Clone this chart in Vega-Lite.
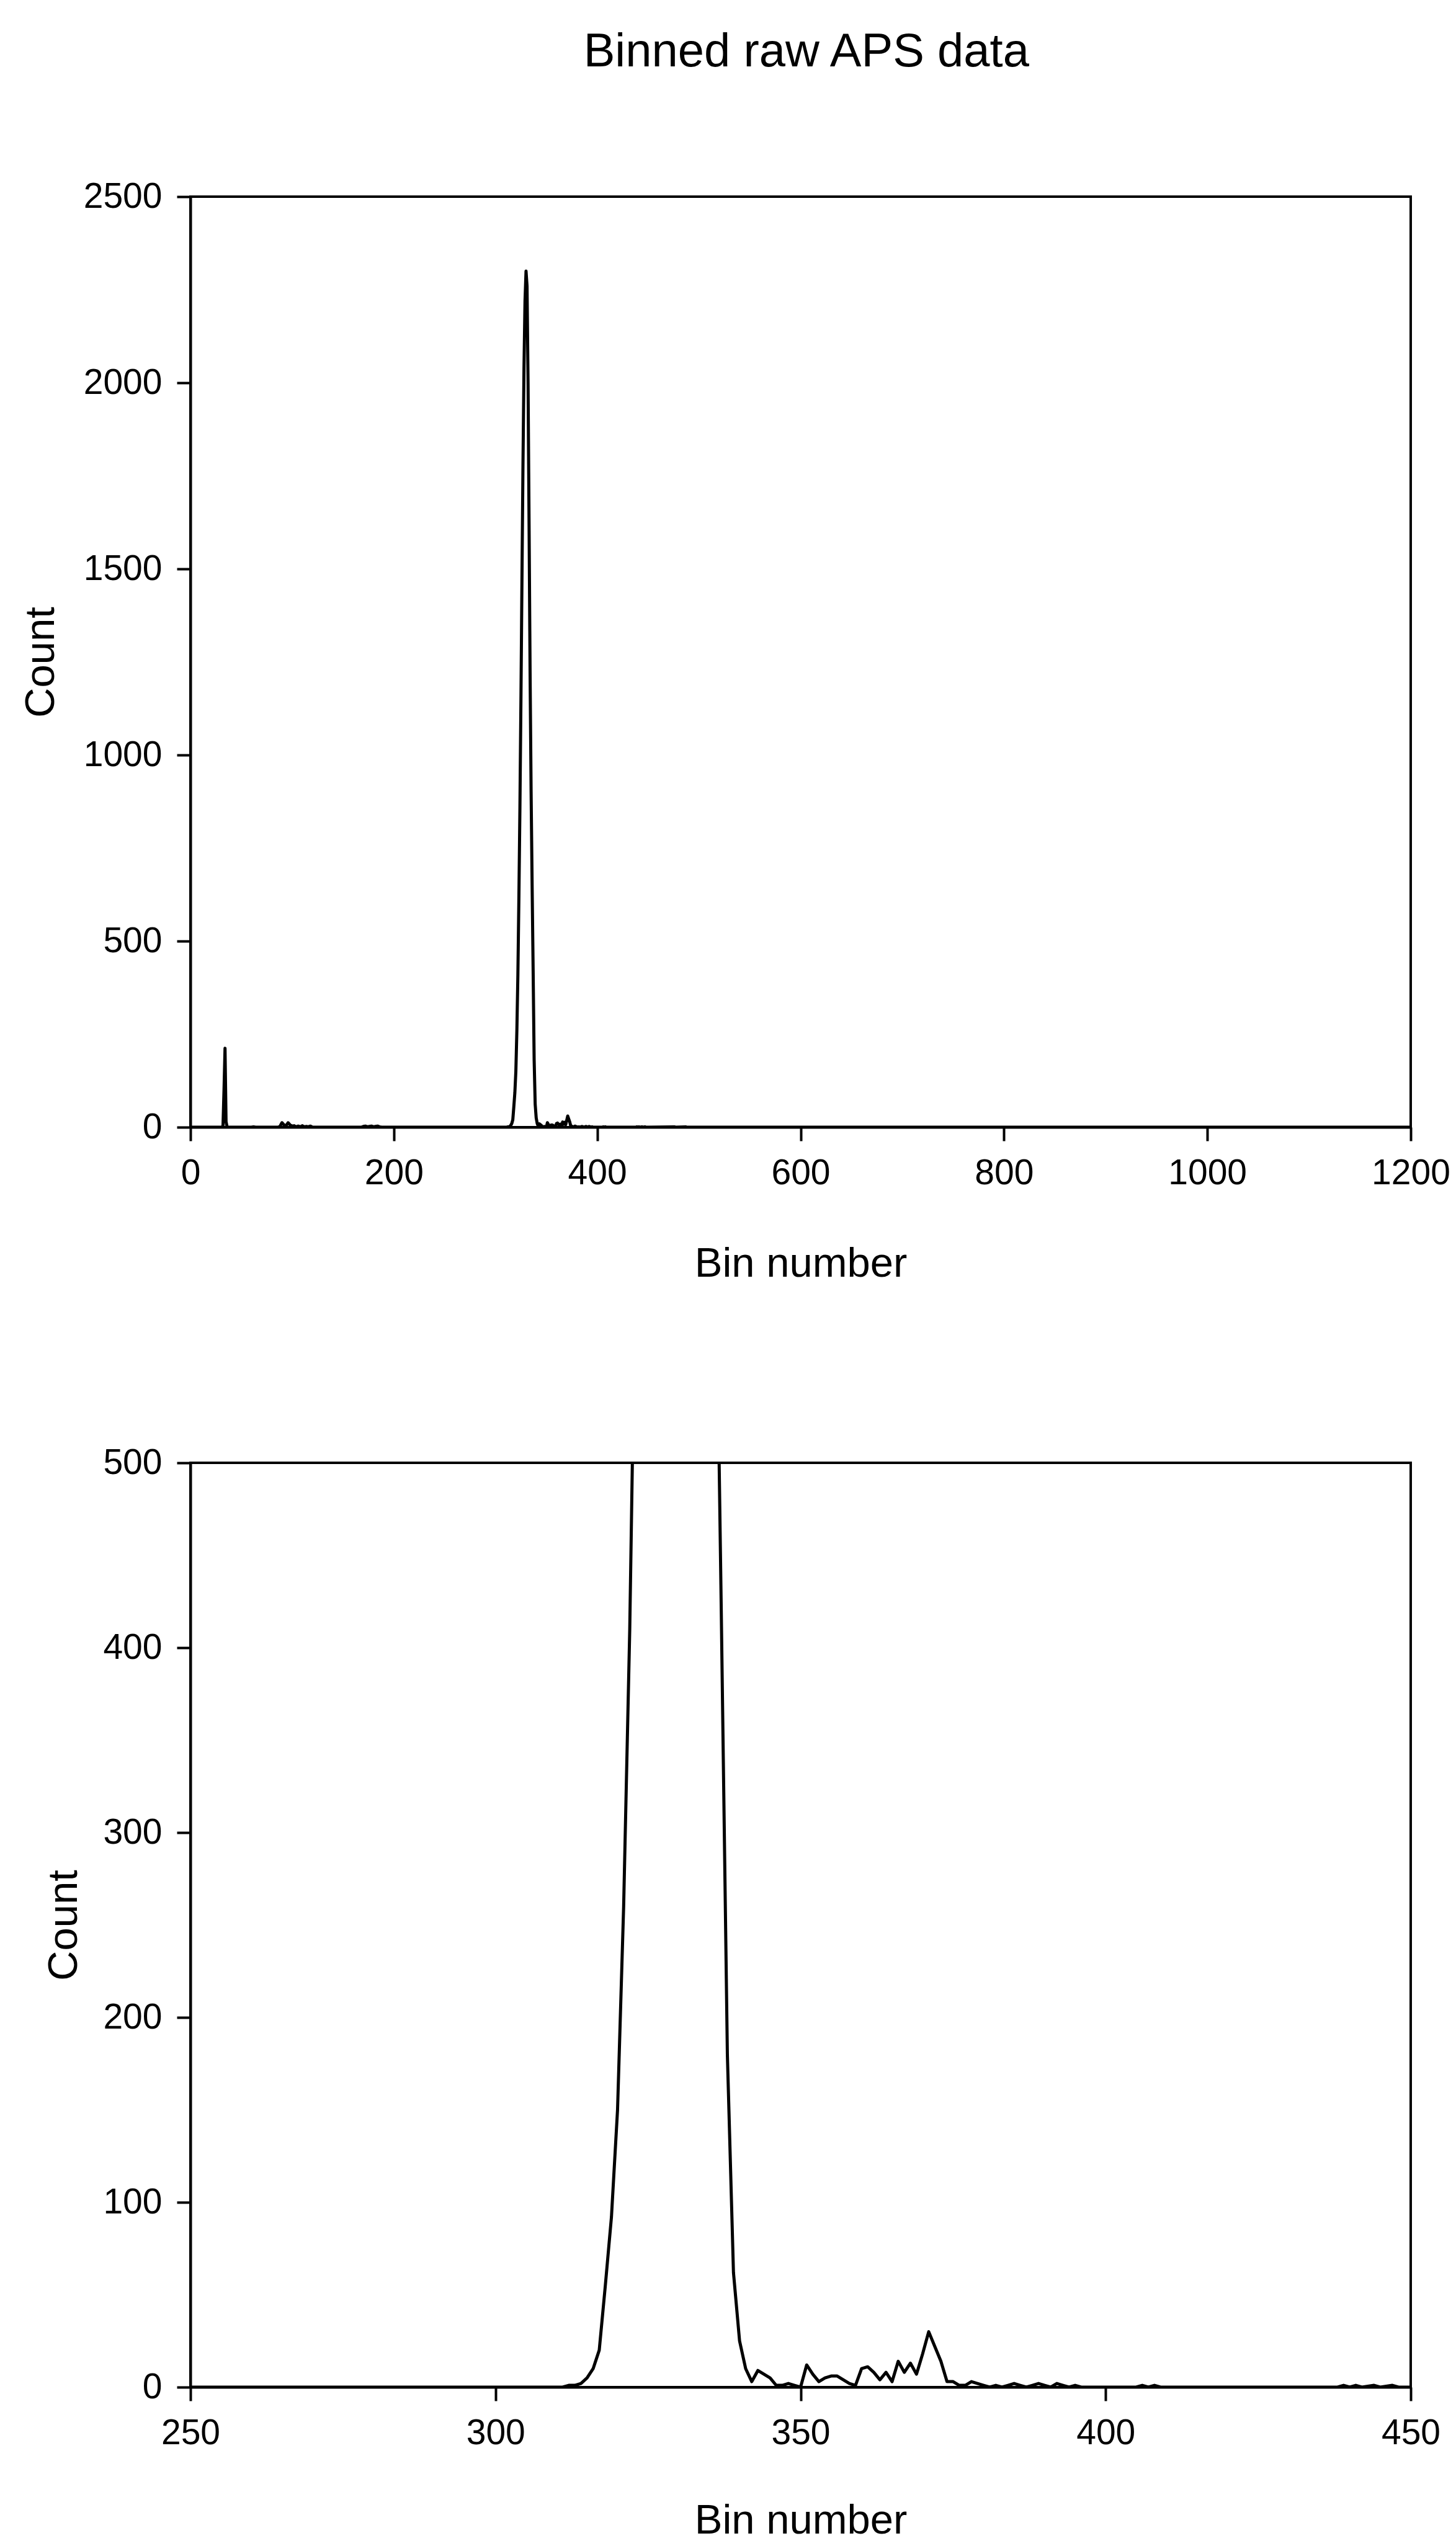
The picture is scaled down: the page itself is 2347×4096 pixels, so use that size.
{
  "$schema": "https://vega.github.io/schema/vega-lite/v6.json",
  "background": "white",
  "padding": {"left": 30, "top": 46, "right": 9, "bottom": 0},
  "title": {"text": "Binned raw APS data", "fontSize": 76, "font": "Liberation Sans", "fontWeight": "normal", "color": "black", "anchor": "middle", "offset": 163, "dx": 115},
  "datasets": {
    "aps": [
      {"bin": 0, "count": 0}, {"bin": 30, "count": 0}, {"bin": 32, "count": 2}, {"bin": 33, "count": 100}, {"bin": 34, "count": 212}, {"bin": 35, "count": 15}, {"bin": 36, "count": 1}, {"bin": 38, "count": 0},
      {"bin": 60, "count": 0}, {"bin": 62, "count": 1}, {"bin": 64, "count": 0},
      {"bin": 86, "count": 0}, {"bin": 88, "count": 2}, {"bin": 90, "count": 12}, {"bin": 92, "count": 6}, {"bin": 94, "count": 4}, {"bin": 96, "count": 12}, {"bin": 98, "count": 6}, {"bin": 100, "count": 3}, {"bin": 102, "count": 4}, {"bin": 104, "count": 1}, {"bin": 106, "count": 3}, {"bin": 108, "count": 1}, {"bin": 110, "count": 4}, {"bin": 112, "count": 1}, {"bin": 114, "count": 2}, {"bin": 116, "count": 1}, {"bin": 118, "count": 3}, {"bin": 120, "count": 0},
      {"bin": 168, "count": 0}, {"bin": 170, "count": 2}, {"bin": 172, "count": 3}, {"bin": 174, "count": 1}, {"bin": 176, "count": 2}, {"bin": 178, "count": 3}, {"bin": 180, "count": 1}, {"bin": 182, "count": 2}, {"bin": 184, "count": 3}, {"bin": 186, "count": 1}, {"bin": 188, "count": 0},
      {"bin": 250, "count": 0}, {"bin": 280, "count": 0}, {"bin": 300, "count": 0}, {"bin": 310, "count": 0}, {"bin": 311, "count": 0},
      {"bin": 312, "count": 1}, {"bin": 313, "count": 1}, {"bin": 314, "count": 2}, {"bin": 315, "count": 5}, {"bin": 316, "count": 10}, {"bin": 317, "count": 20}, {"bin": 318, "count": 55}, {"bin": 319, "count": 92}, {"bin": 320, "count": 150}, {"bin": 321, "count": 260}, {"bin": 322, "count": 410}, {"bin": 323, "count": 620}, {"bin": 324, "count": 860}, {"bin": 325, "count": 1150}, {"bin": 326, "count": 1470}, {"bin": 327, "count": 1780}, {"bin": 328, "count": 2040}, {"bin": 329, "count": 2220}, {"bin": 330, "count": 2300}, {"bin": 331, "count": 2260}, {"bin": 332, "count": 2000}, {"bin": 333, "count": 1620}, {"bin": 334, "count": 1220}, {"bin": 335, "count": 900}, {"bin": 336, "count": 650}, {"bin": 337, "count": 420}, {"bin": 338, "count": 180}, {"bin": 339, "count": 62}, {"bin": 340, "count": 25}, {"bin": 341, "count": 10}, {"bin": 342, "count": 3}, {"bin": 343, "count": 9}, {"bin": 344, "count": 7}, {"bin": 345, "count": 5}, {"bin": 346, "count": 1}, {"bin": 347, "count": 1}, {"bin": 348, "count": 2}, {"bin": 349, "count": 1}, {"bin": 350, "count": 0},
      {"bin": 351, "count": 12}, {"bin": 352, "count": 7}, {"bin": 353, "count": 3}, {"bin": 354, "count": 5}, {"bin": 355, "count": 6}, {"bin": 356, "count": 6}, {"bin": 357, "count": 4}, {"bin": 358, "count": 2}, {"bin": 359, "count": 1}, {"bin": 360, "count": 10}, {"bin": 361, "count": 11}, {"bin": 362, "count": 8}, {"bin": 363, "count": 4}, {"bin": 364, "count": 8}, {"bin": 365, "count": 3}, {"bin": 366, "count": 14}, {"bin": 367, "count": 8}, {"bin": 368, "count": 13}, {"bin": 369, "count": 7}, {"bin": 370, "count": 18}, {"bin": 371, "count": 30}, {"bin": 372, "count": 22}, {"bin": 373, "count": 14}, {"bin": 374, "count": 3}, {"bin": 375, "count": 3}, {"bin": 376, "count": 1}, {"bin": 377, "count": 1}, {"bin": 378, "count": 3}, {"bin": 379, "count": 2}, {"bin": 380, "count": 1}, {"bin": 381, "count": 0}, {"bin": 382, "count": 1}, {"bin": 383, "count": 0}, {"bin": 384, "count": 1}, {"bin": 385, "count": 2}, {"bin": 386, "count": 1}, {"bin": 387, "count": 0}, {"bin": 388, "count": 1}, {"bin": 389, "count": 2}, {"bin": 390, "count": 1}, {"bin": 391, "count": 0}, {"bin": 392, "count": 2}, {"bin": 393, "count": 1}, {"bin": 394, "count": 0}, {"bin": 395, "count": 1}, {"bin": 396, "count": 0},
      {"bin": 405, "count": 0}, {"bin": 406, "count": 1}, {"bin": 407, "count": 0}, {"bin": 408, "count": 1}, {"bin": 409, "count": 0},
      {"bin": 438, "count": 0}, {"bin": 439, "count": 1}, {"bin": 440, "count": 0}, {"bin": 441, "count": 1}, {"bin": 442, "count": 0}, {"bin": 444, "count": 1}, {"bin": 445, "count": 0}, {"bin": 447, "count": 1}, {"bin": 448, "count": 0}, {"bin": 450, "count": 0},
      {"bin": 476, "count": 1}, {"bin": 477, "count": 0}, {"bin": 487, "count": 1}, {"bin": 488, "count": 0}, {"bin": 600, "count": 0}, {"bin": 800, "count": 0}, {"bin": 1000, "count": 0}, {"bin": 1200, "count": 0}
    ]
  },
  "spacing": 255,
  "vconcat": [
    {
      "width": 1967,
      "height": 1500,
      "data": {"name": "aps"},
      "mark": {"type": "line", "color": "black", "strokeWidth": 5, "strokeJoin": "round", "clip": true},
      "encoding": {
        "x": {"field": "bin", "type": "quantitative", "scale": {"domain": [0, 1200], "nice": false, "zero": false}, "axis": {"values": [0, 200, 400, 600, 800, 1000, 1200], "format": "d", "title": "Bin number", "titlePadding": 85}},
        "y": {"field": "count", "type": "quantitative", "scale": {"domain": [0, 2500], "nice": false}, "axis": {"values": [0, 500, 1000, 1500, 2000, 2500], "format": "d", "title": "Count"}}
      }
    },
    {
      "width": 1967,
      "height": 1490,
      "data": {"name": "aps"},
      "mark": {"type": "line", "color": "black", "strokeWidth": 5, "strokeJoin": "round", "clip": true},
      "encoding": {
        "x": {"field": "bin", "type": "quantitative", "scale": {"domain": [250, 450], "nice": false, "zero": false}, "axis": {"values": [250, 300, 350, 400, 450], "format": "d", "title": "Bin number", "titlePadding": 80}},
        "y": {"field": "count", "type": "quantitative", "scale": {"domain": [0, 500], "nice": false}, "axis": {"values": [0, 100, 200, 300, 400, 500], "format": "d", "title": "Count", "titlePadding": 28}}
      }
    }
  ],
  "config": {
    "view": {"stroke": "black", "strokeWidth": 4},
    "axis": {
      "grid": false,
      "domainColor": "black", "domainWidth": 4,
      "tickColor": "black", "tickWidth": 4, "tickSize": 22,
      "labelFont": "Liberation Sans", "labelFontSize": 57, "labelColor": "black", "labelPadding": 24, "labelFlush": false, "labelOverlap": false,
      "titleFont": "Liberation Sans", "titleFontSize": 67, "titleFontWeight": "normal", "titleColor": "black"
    },
    "axisY": {"titlePadding": 34}
  }
}
